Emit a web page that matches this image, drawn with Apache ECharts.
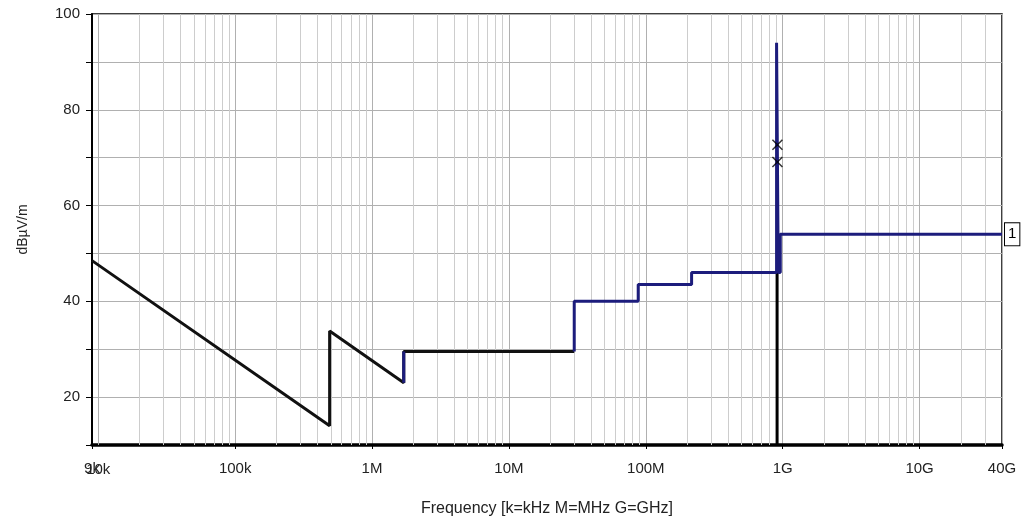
<!DOCTYPE html>
<html>
<head>
<meta charset="utf-8">
<script src="https://cdn.jsdelivr.net/npm/echarts@6/dist/echarts.min.js"></script>
<style>
html,body{margin:0;padding:0;background:#fff;}
#chart{width:1024px;height:531px;}
</style>
</head>
<body>
<div id="chart"></div>
<script>
// ---- data (frequency in Hz, level in dBµV/m) ----
const lowFreq  = [9e3, 490e3, 490e3, 1.705e6, 1.705e6, 30e6];
const lowLevel = [48.5, 14.0, 33.8, 23.0, 29.5, 29.5];
const stepFreq  = [1.705e6, 1.705e6];
const stepLevel = [23.0, 29.5];
const highFreq  = [30e6, 30e6, 88e6, 88e6, 216e6, 216e6, 902e6, 902e6, 928e6, 928e6, 960e6, 960e6, 40e9];
const highLevel = [29.5, 40, 40, 43.5, 43.5, 46, 46, 94, 94, 46, 46, 54, 54];
const markerFreq  = [910e6, 910e6];
const markerLevel = [10, 46];
const peakFreq  = [915e6, 915e6];
const peakLevel = [72.7, 69.1];
const decades = [1e3, 1e4, 1e5, 1e6, 1e7, 1e8, 1e9, 1e10];
const minorSteps = [2, 3, 4, 5, 6, 7, 8, 9];
const yLabelsShown = [20, 40, 60, 80, 100];
const extraTickFreq = 1e4;
const extraTickLabel = '10k';

const zip = (xs, ys) => xs.map((x, i) => [x, ys[i]]);

const minorLines = [];
decades.forEach(d => minorSteps.forEach(m => {
  const f = d * m;
  if (f > 9e3 && f < 4e10) minorLines.push({ xAxis: f });
}));

function fmtFreq(v) {
  const r = Number(Number(v).toPrecision(3));
  if (r >= 1e9) return Number((r / 1e9).toPrecision(3)) + 'G';
  if (r >= 1e6) return Number((r / 1e6).toPrecision(3)) + 'M';
  if (r >= 1e3) return Number((r / 1e3).toPrecision(3)) + 'k';
  return String(r);
}

const chart = echarts.init(document.getElementById('chart'));
const FONT = '"Liberation Sans", Arial, sans-serif';
const NAVY = '#1c1c7c';

chart.setOption({
  animation: false,
  backgroundColor: '#ffffff',
  textStyle: { fontFamily: FONT },
  grid: {
    left: 92, right: 22, top: 14, bottom: 86,
    show: true, borderColor: '#000', borderWidth: 1.5, backgroundColor: '#fff'
  },
  xAxis: {
    type: 'log', logBase: 10, min: 9e3, max: 4e10,
    name: 'Frequency [k=kHz M=MHz G=GHz]',
    nameLocation: 'middle', nameGap: 56,
    nameTextStyle: { fontSize: 16, color: '#222', fontFamily: FONT },
    axisLine: { show: true, onZero: false, lineStyle: { color: '#000', width: 3.5 } },
    axisTick: { show: true, length: 4, lineStyle: { color: '#000', width: 1 } },
    axisLabel: { fontSize: 15, color: '#222', margin: 16, formatter: fmtFreq, showMinLabel: true, showMaxLabel: true },
    splitLine: { show: true, lineStyle: { color: '#b0b0b0', width: 1 } }
  },
  yAxis: {
    type: 'value', min: 10, max: 100, interval: 10,
    name: 'dBµV/m', nameLocation: 'middle', nameGap: 62,
    nameTextStyle: { fontSize: 14, color: '#222', fontFamily: FONT },
    axisLine: { show: true, onZero: false, lineStyle: { color: '#000', width: 2 } },
    axisTick: { show: true, length: 6, lineStyle: { color: '#000', width: 1 } },
    axisLabel: { fontSize: 15, color: '#222', margin: 12,
      formatter: v => yLabelsShown.indexOf(v) >= 0 ? String(v) : '' },
    splitLine: { show: true, lineStyle: { color: '#b0b0b0', width: 1 } }
  },
  series: [
    {
      name: 'grid', type: 'line', data: [], z: 1, silent: true,
      markLine: {
        silent: true, symbol: ['none', 'none'], animation: false, z: 1,
        label: { show: false },
        lineStyle: { type: 'solid', color: '#cdcdcd', width: 1 },
        emphasis: { disabled: true },
        data: minorLines.concat([{
          xAxis: extraTickFreq,
          lineStyle: { color: '#b0b0b0' },
          label: { show: true, position: 'start', formatter: extraTickLabel, distance: 17,
                   fontSize: 15, color: '#222', fontFamily: FONT }
        }])
      }
    },
    {
      name: 'limit low', type: 'line', data: zip(lowFreq, lowLevel), z: 3,
      showSymbol: false, symbol: 'none',
      lineStyle: { color: '#111', width: 3 }
    },
    {
      name: 'step', type: 'line', data: zip(stepFreq, stepLevel), z: 4,
      showSymbol: false, symbol: 'none',
      lineStyle: { color: NAVY, width: 3 }
    },
    {
      name: 'marker', type: 'line', data: zip(markerFreq, markerLevel), z: 3,
      showSymbol: false, symbol: 'none',
      lineStyle: { color: '#000', width: 3 }
    },
    {
      name: 'limit high', type: 'line', data: zip(highFreq, highLevel), z: 4,
      showSymbol: false, symbol: 'none',
      lineStyle: { color: NAVY, width: 3 },
      endLabel: {
        show: true, formatter: '1', distance: 3,
        color: '#000', fontSize: 15, fontFamily: FONT,
        backgroundColor: '#fff', borderColor: '#000', borderWidth: 1,
        padding: [4, 3, 3, 3]
      }
    },
    {
      name: 'peaks', type: 'scatter', data: zip(peakFreq, peakLevel), z: 5,
      symbol: 'path://M0,0L10,10M10,0L0,10', symbolSize: 10,
      itemStyle: { color: 'none', borderColor: '#000', borderWidth: 1.5 }
    }
  ]
});
</script>
</body>
</html>
